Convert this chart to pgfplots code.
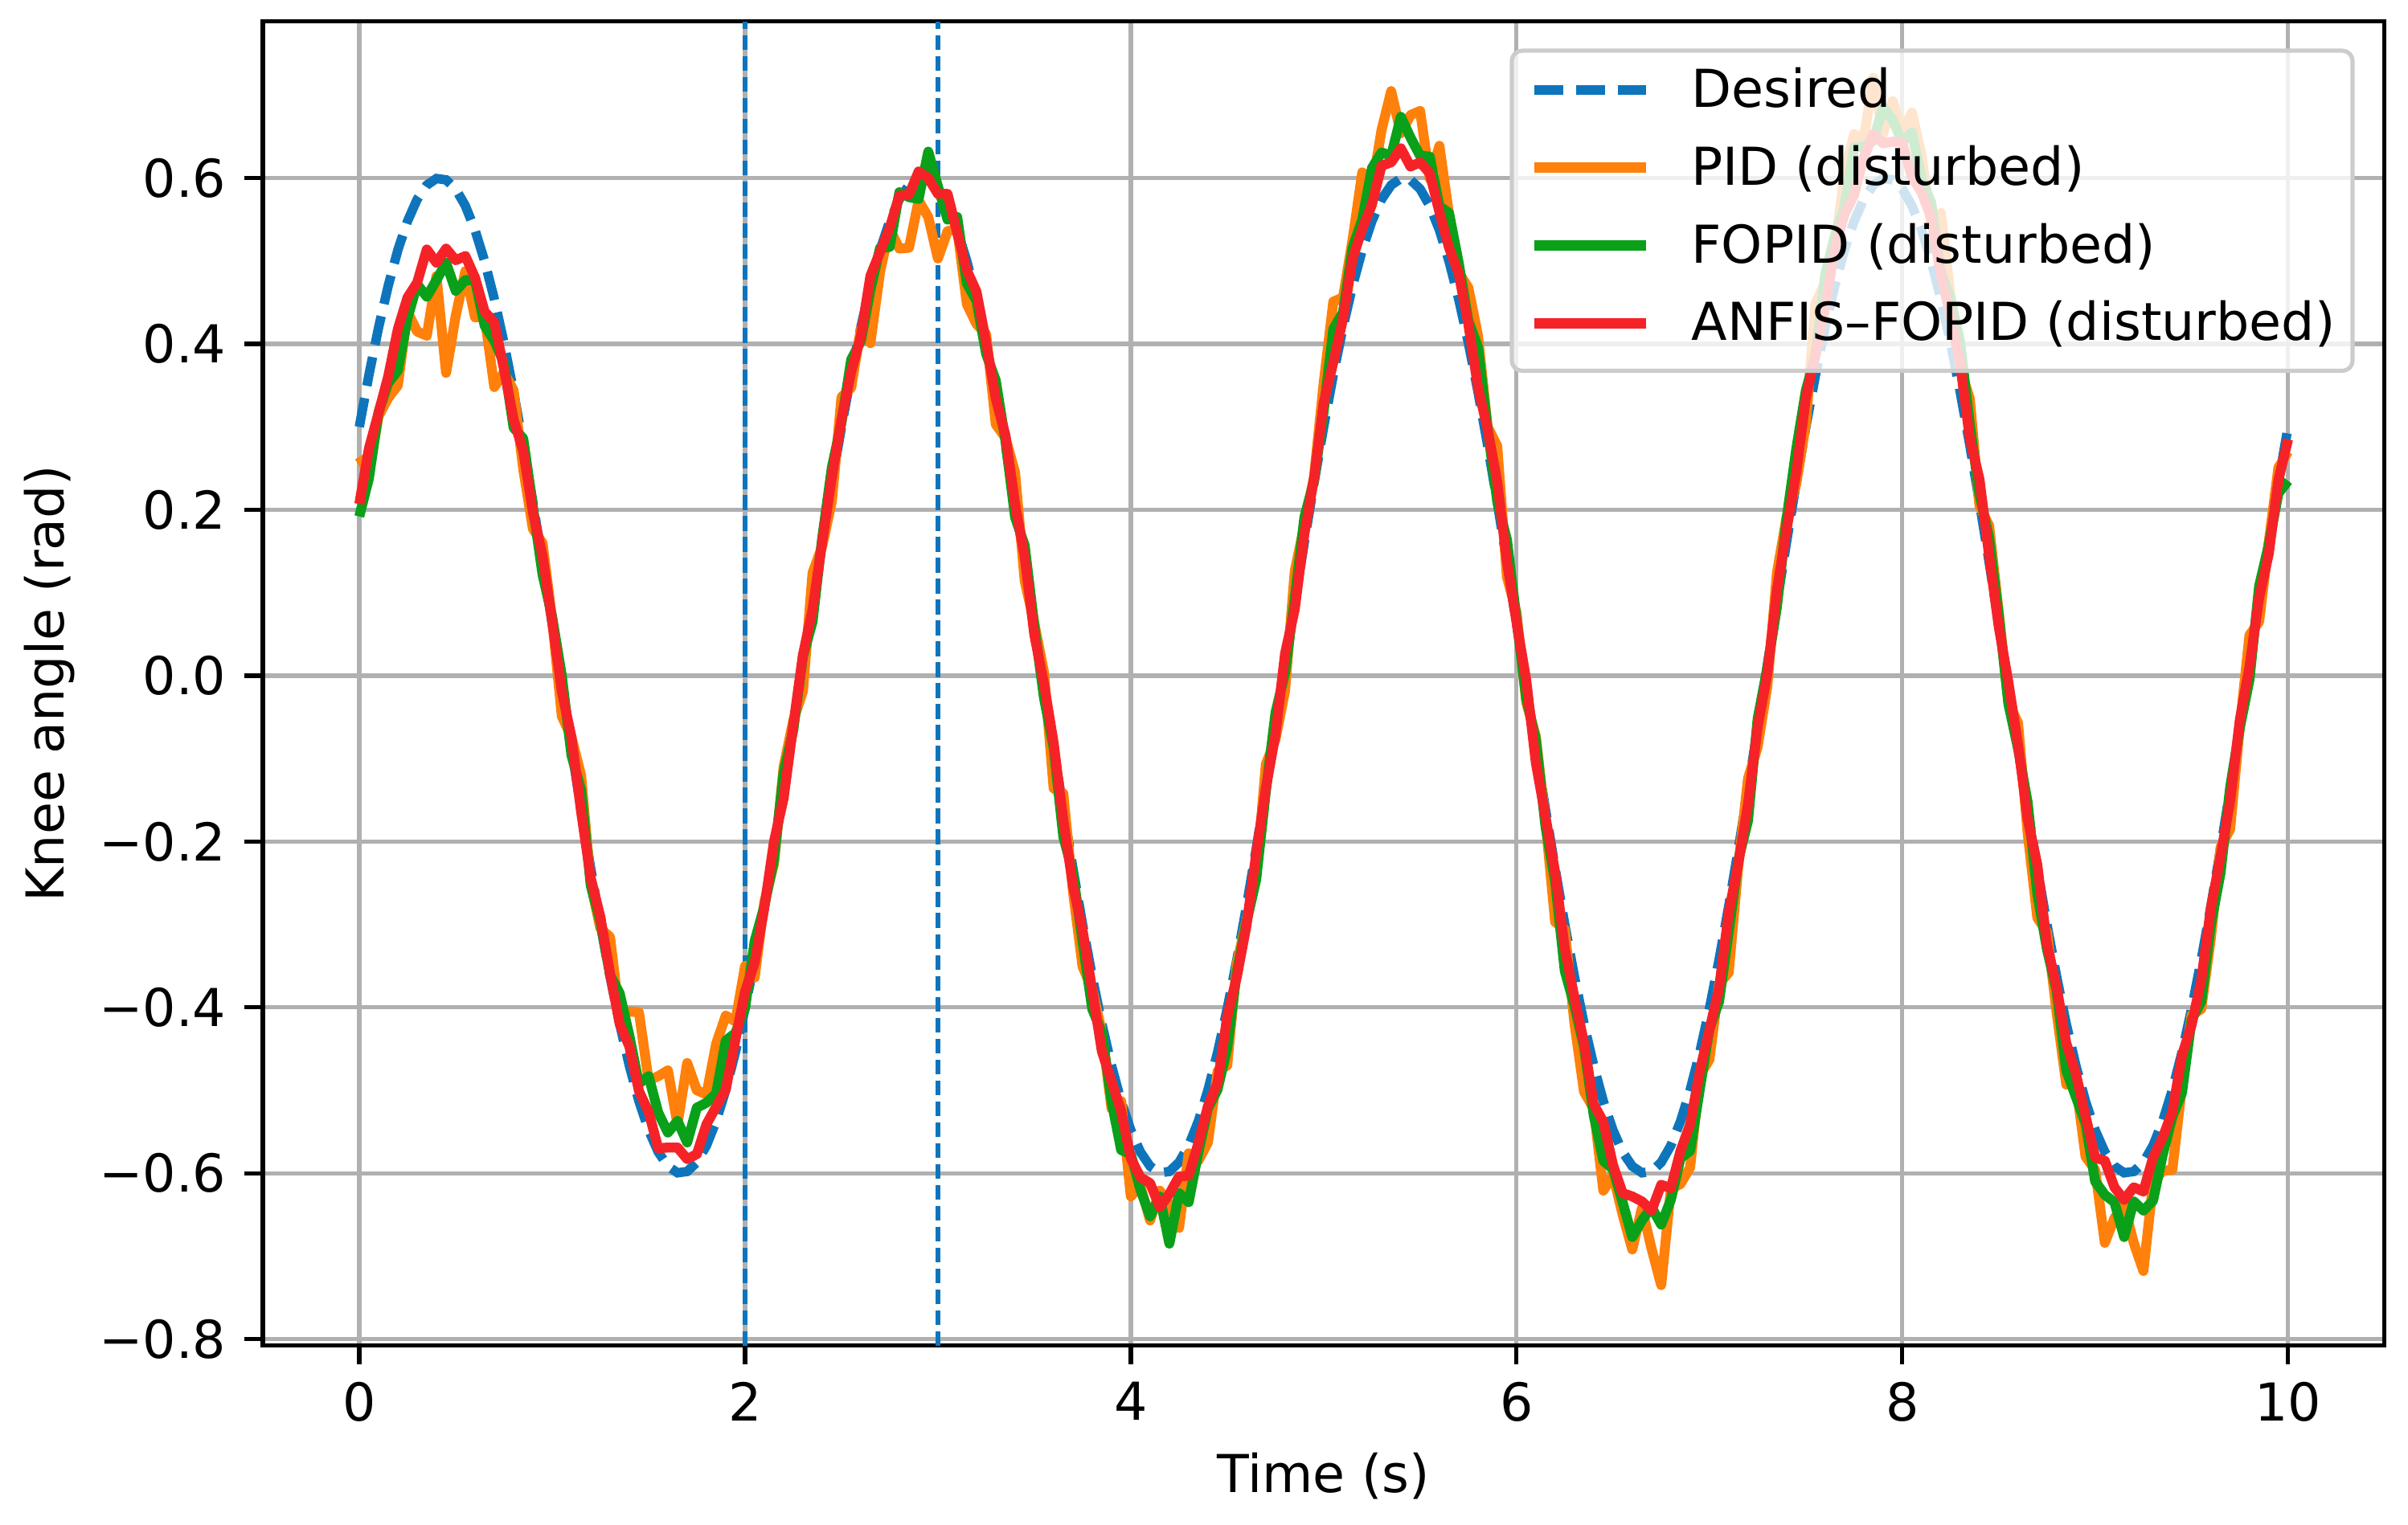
\documentclass[border=0pt]{standalone}
\usepackage{fontspec}
\setmainfont{DejaVu Sans}
\usepackage{pgfplots}
\usepackage{pgfplotstable}
\pgfplotsset{compat=1.18}

\definecolor{cdes}{RGB}{14,117,188}
\definecolor{cpid}{RGB}{255,128,10}
\definecolor{cfo}{RGB}{10,160,25}
\definecolor{can}{RGB}{245,35,40}
\definecolor{cgrid}{RGB}{176,176,176}

\pgfplotstableread{
t d p f a
0.00 0.3000 0.264 0.192 0.207
0.05 0.3627 0.245 0.238 0.274
0.10 0.4198 0.313 0.318 0.317
0.15 0.4702 0.335 0.353 0.361
0.20 0.5133 0.350 0.368 0.418
0.25 0.5481 0.439 0.431 0.456
0.30 0.5744 0.415 0.472 0.474
0.35 0.5916 0.410 0.457 0.514
0.40 0.5995 0.482 0.477 0.498
0.45 0.5979 0.365 0.498 0.515
0.50 0.5869 0.434 0.464 0.501
0.55 0.5666 0.488 0.477 0.506
0.60 0.5374 0.432 0.477 0.480
0.65 0.4997 0.433 0.422 0.439
0.70 0.4542 0.348 0.404 0.426
0.75 0.4015 0.366 0.377 0.370
0.80 0.3424 0.344 0.299 0.309
0.85 0.2780 0.249 0.286 0.271
0.90 0.2091 0.177 0.204 0.197
0.95 0.1370 0.160 0.122 0.145
1.00 0.0627 0.068 0.071 0.065
1.05 -0.0126 -0.049 0.000 -0.019
1.10 -0.0877 -0.074 -0.096 -0.074
1.15 -0.1613 -0.120 -0.138 -0.164
1.20 -0.2325 -0.251 -0.253 -0.244
1.25 -0.3000 -0.305 -0.297 -0.291
1.30 -0.3627 -0.315 -0.361 -0.359
1.35 -0.4198 -0.412 -0.383 -0.420
1.40 -0.4702 -0.405 -0.434 -0.447
1.45 -0.5133 -0.406 -0.492 -0.501
1.50 -0.5481 -0.488 -0.483 -0.526
1.55 -0.5744 -0.483 -0.527 -0.570
1.60 -0.5916 -0.476 -0.551 -0.569
1.65 -0.5995 -0.541 -0.537 -0.569
1.70 -0.5979 -0.467 -0.563 -0.583
1.75 -0.5869 -0.500 -0.521 -0.577
1.80 -0.5666 -0.505 -0.515 -0.541
1.85 -0.5374 -0.444 -0.504 -0.520
1.90 -0.4997 -0.410 -0.440 -0.499
1.95 -0.4542 -0.417 -0.431 -0.439
2.00 -0.4015 -0.350 -0.401 -0.381
2.05 -0.3424 -0.364 -0.320 -0.346
2.10 -0.2780 -0.273 -0.278 -0.280
2.15 -0.2091 -0.227 -0.222 -0.200
2.20 -0.1370 -0.110 -0.117 -0.148
2.25 -0.0627 -0.054 -0.066 -0.060
2.30 0.0126 -0.019 0.023 0.025
2.35 0.0877 0.124 0.065 0.080
2.40 0.1613 0.156 0.166 0.161
2.45 0.2325 0.210 0.251 0.239
2.50 0.3000 0.336 0.305 0.309
2.55 0.3627 0.347 0.381 0.366
2.60 0.4198 0.418 0.403 0.409
2.65 0.4702 0.401 0.465 0.482
2.70 0.5133 0.487 0.516 0.511
2.75 0.5481 0.539 0.517 0.540
2.80 0.5744 0.515 0.583 0.579
2.85 0.5916 0.516 0.577 0.580
2.90 0.5995 0.573 0.575 0.608
2.95 0.5979 0.553 0.632 0.600
3.00 0.5869 0.503 0.590 0.581
3.05 0.5666 0.536 0.550 0.581
3.10 0.5374 0.539 0.553 0.534
3.15 0.4997 0.448 0.473 0.489
3.20 0.4542 0.424 0.452 0.463
3.25 0.4015 0.412 0.388 0.402
3.30 0.3424 0.303 0.356 0.334
3.35 0.2780 0.287 0.283 0.290
3.40 0.2091 0.245 0.191 0.207
3.45 0.1370 0.114 0.157 0.143
3.50 0.0627 0.063 0.060 0.049
3.55 -0.0126 0.004 -0.027 -0.010
3.60 -0.0877 -0.136 -0.087 -0.081
3.65 -0.1613 -0.142 -0.194 -0.174
3.70 -0.2325 -0.260 -0.238 -0.253
3.75 -0.3000 -0.351 -0.321 -0.307
3.80 -0.3627 -0.378 -0.402 -0.379
3.85 -0.4198 -0.430 -0.430 -0.453
3.90 -0.4702 -0.522 -0.513 -0.489
3.95 -0.5133 -0.513 -0.572 -0.525
4.00 -0.5481 -0.628 -0.577 -0.582
4.05 -0.5744 -0.615 -0.620 -0.605
4.10 -0.5916 -0.657 -0.652 -0.612
4.15 -0.5995 -0.621 -0.628 -0.641
4.20 -0.5979 -0.637 -0.685 -0.625
4.25 -0.5869 -0.666 -0.624 -0.604
4.30 -0.5666 -0.576 -0.635 -0.603
4.35 -0.5374 -0.585 -0.575 -0.564
4.40 -0.4997 -0.563 -0.522 -0.519
4.45 -0.4542 -0.477 -0.499 -0.491
4.50 -0.4015 -0.470 -0.449 -0.411
4.55 -0.3424 -0.347 -0.357 -0.363
4.60 -0.2780 -0.295 -0.297 -0.301
4.65 -0.2091 -0.244 -0.246 -0.215
4.70 -0.1370 -0.107 -0.140 -0.136
4.75 -0.0627 -0.077 -0.045 -0.071
4.80 0.0126 -0.018 0.004 0.027
4.85 0.0877 0.126 0.093 0.080
4.90 0.1613 0.182 0.191 0.171
4.95 0.2325 0.240 0.235 0.238
5.00 0.3000 0.353 0.319 0.329
5.05 0.3627 0.451 0.418 0.378
5.10 0.4198 0.456 0.438 0.430
5.15 0.4702 0.526 0.516 0.503
5.20 0.5133 0.607 0.550 0.539
5.25 0.5481 0.587 0.612 0.568
5.30 0.5744 0.658 0.631 0.615
5.35 0.5916 0.705 0.627 0.619
5.40 0.5995 0.654 0.674 0.636
5.45 0.5979 0.676 0.649 0.614
5.50 0.5869 0.681 0.627 0.619
5.55 0.5666 0.599 0.626 0.606
5.60 0.5374 0.639 0.566 0.559
5.65 0.4997 0.556 0.558 0.516
5.70 0.4542 0.486 0.498 0.485
5.75 0.4015 0.468 0.428 0.424
5.80 0.3424 0.410 0.396 0.348
5.85 0.2780 0.300 0.298 0.297
5.90 0.2091 0.277 0.210 0.234
5.95 0.1370 0.119 0.164 0.138
6.00 0.0627 0.076 0.068 0.064
6.05 -0.0126 -0.032 -0.027 -0.005
6.10 -0.0877 -0.073 -0.077 -0.105
6.15 -0.1613 -0.175 -0.182 -0.170
6.20 -0.2325 -0.297 -0.248 -0.237
6.25 -0.3000 -0.306 -0.356 -0.329
6.30 -0.3627 -0.419 -0.398 -0.388
6.35 -0.4198 -0.502 -0.448 -0.443
6.40 -0.4702 -0.522 -0.530 -0.517
6.45 -0.5133 -0.621 -0.585 -0.538
6.50 -0.5481 -0.602 -0.595 -0.590
6.55 -0.5744 -0.650 -0.635 -0.624
6.60 -0.5916 -0.692 -0.677 -0.628
6.65 -0.5995 -0.642 -0.657 -0.634
6.70 -0.5979 -0.691 -0.641 -0.645
6.75 -0.5869 -0.735 -0.662 -0.614
6.80 -0.5666 -0.619 -0.632 -0.618
6.85 -0.5374 -0.613 -0.582 -0.573
6.90 -0.4997 -0.593 -0.573 -0.541
6.95 -0.4542 -0.482 -0.499 -0.477
7.00 -0.4015 -0.463 -0.426 -0.427
7.05 -0.3424 -0.372 -0.393 -0.377
7.10 -0.2780 -0.358 -0.309 -0.286
7.15 -0.2091 -0.229 -0.222 -0.226
7.20 -0.1370 -0.124 -0.175 -0.155
7.25 -0.0627 -0.086 -0.052 -0.062
7.30 0.0126 -0.013 0.009 0.002
7.35 0.0877 0.124 0.083 0.103
7.40 0.1613 0.191 0.189 0.176
7.45 0.2325 0.231 0.273 0.245
7.50 0.3000 0.304 0.344 0.335
7.55 0.3627 0.449 0.386 0.387
7.60 0.4198 0.474 0.483 0.444
7.65 0.4702 0.514 0.530 0.516
7.70 0.5133 0.604 0.565 0.556
7.75 0.5481 0.653 0.637 0.580
7.80 0.5744 0.647 0.638 0.625
7.85 0.5916 0.721 0.645 0.653
7.90 0.5995 0.653 0.686 0.642
7.95 0.5979 0.693 0.670 0.644
8.00 0.5869 0.657 0.644 0.643
8.05 0.5666 0.679 0.655 0.601
8.10 0.5374 0.627 0.599 0.583
8.15 0.4997 0.543 0.570 0.552
8.20 0.4542 0.558 0.486 0.483
8.25 0.4015 0.457 0.455 0.434
8.30 0.3424 0.371 0.402 0.376
8.35 0.2780 0.334 0.303 0.286
8.40 0.2091 0.205 0.219 0.237
8.45 0.1370 0.181 0.166 0.145
8.50 0.0627 0.077 0.073 0.059
8.55 -0.0126 -0.032 -0.034 -0.008
8.60 -0.0877 -0.057 -0.088 -0.083
8.65 -0.1613 -0.190 -0.153 -0.173
8.70 -0.2325 -0.292 -0.263 -0.228
8.75 -0.3000 -0.309 -0.330 -0.324
8.80 -0.3627 -0.406 -0.380 -0.375
8.85 -0.4198 -0.493 -0.476 -0.443
8.90 -0.4702 -0.491 -0.508 -0.480
8.95 -0.5133 -0.580 -0.540 -0.531
9.00 -0.5481 -0.596 -0.610 -0.581
9.05 -0.5744 -0.684 -0.626 -0.585
9.10 -0.5916 -0.654 -0.635 -0.617
9.15 -0.5995 -0.639 -0.677 -0.632
9.20 -0.5979 -0.684 -0.634 -0.617
9.25 -0.5869 -0.718 -0.645 -0.622
9.30 -0.5666 -0.612 -0.633 -0.581
9.35 -0.5374 -0.597 -0.578 -0.557
9.40 -0.4997 -0.596 -0.532 -0.526
9.45 -0.4542 -0.495 -0.503 -0.458
9.50 -0.4015 -0.409 -0.415 -0.421
9.55 -0.3424 -0.402 -0.393 -0.367
9.60 -0.2780 -0.316 -0.300 -0.280
9.65 -0.2091 -0.207 -0.238 -0.218
9.70 -0.1370 -0.185 -0.134 -0.151
9.75 -0.0627 -0.061 -0.063 -0.053
9.80 0.0126 0.049 -0.005 0.011
9.85 0.0877 0.065 0.108 0.094
9.90 0.1613 0.161 0.158 0.147
9.95 0.2325 0.251 0.220 0.236
10.00 0.3000 0.270 0.235 0.285
}\data

\begin{document}
\begin{tikzpicture}
\begin{axis}[
  name=ax,
  scale only axis,
  width=406pt, height=253.5pt,
  xmin=-0.5, xmax=10.5, ymin=-0.808, ymax=0.789,
  xtick={0,2,4,6,8,10}, xticklabels={0,2,4,6,8,10},
  ytick={-0.8,-0.6,-0.4,-0.2,0,0.2,0.4,0.6},
  yticklabels={−0.8,−0.6,−0.4,−0.2,0.0,0.2,0.4,0.6},
  /pgf/number format/assume math mode=true,
  tick pos=left, tick align=outside,
  major tick length=3.5pt,
  every tick/.style={black, line width=0.8pt},
  axis line style={black, line width=0.8pt},
  grid=major, grid style={cgrid, line width=0.8pt},
  tick label style={font=\fontsize{10}{12}\selectfont},
  label style={font=\fontsize{10}{12}\selectfont},
  xlabel={Time (s)}, ylabel={Knee angle (rad)},
  xlabel style={at={(axis description cs:0.5,-0.0982)}, anchor=center},
  ylabel style={at={(axis description cs:-0.1007,0.5)}, anchor=center},
  legend cell align=left,
  legend image code/.code={\draw[#1] (0pt,3.3pt) -- (21.4pt,3.3pt);},
  legend style={at={(axis description cs:1,1)}, anchor=north east,
    xshift=-5.7pt, yshift=-5.2pt,
    draw=black!20, line width=0.8pt, rounded corners=2pt,
    fill=white, fill opacity=0.8, text opacity=1, draw opacity=1,
    inner xsep=3.3pt, inner ysep=3.3pt,
    font=\fontsize{10}{12}\selectfont,
    row sep=4.9pt, column sep=7.8pt,
    nodes={inner sep=0pt, text height=7.5pt, text depth=2.5pt, anchor=base west}},
]
\addplot[cdes, line width=0.9pt, dash pattern=on 2.8pt off 1.2pt, forget plot] coordinates {(2,-0.808) (2,0.789)};
\addplot[cdes, line width=0.9pt, dash pattern=on 2.8pt off 1.2pt, forget plot] coordinates {(3,-0.808) (3,0.789)};
\addplot[cdes, line width=1.8pt, dash pattern=on 5.6pt off 2.4pt] table[x=t,y=d]{\data};
\addlegendentry{Desired}
\addplot[cpid, line width=1.9pt, line join=round] table[x=t,y=p]{\data};
\addlegendentry{PID (disturbed)}
\addplot[cfo, line width=1.9pt, line join=round] table[x=t,y=f]{\data};
\addlegendentry{FOPID (disturbed)}
\addplot[can, line width=1.9pt, line join=round] table[x=t,y=a]{\data};
\addlegendentry{ANFIS–FOPID (disturbed)}
\end{axis}
\pgfresetboundingbox
\path[use as bounding box] ([xshift=-50.3pt,yshift=-34.2pt]ax.south west) rectangle ++(460.8pt,291.8pt);
\end{tikzpicture}
\end{document}
